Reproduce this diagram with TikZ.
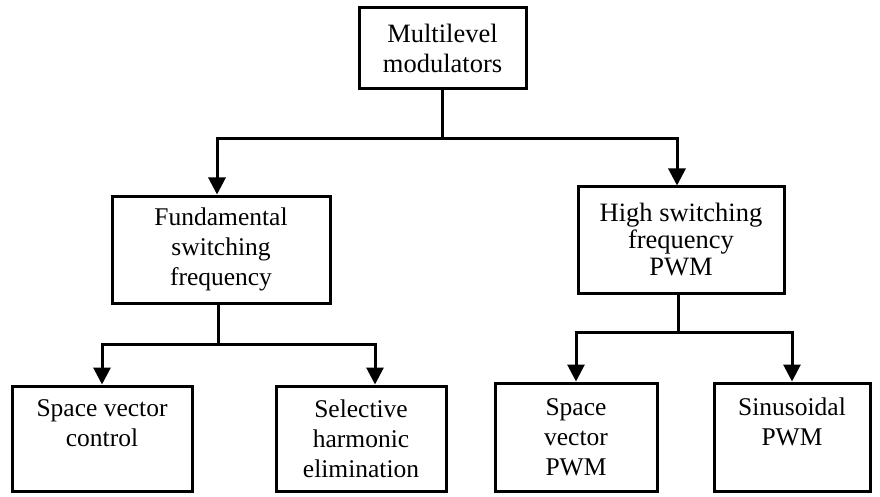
\documentclass[tikz,border=0pt]{standalone}
\usepackage{fontspec}
\setmainfont{Liberation Serif}
\usetikzlibrary{arrows.meta,positioning}
\providecommand{\modLineWidth}{3pt}
\tikzset{
  modbox/.style={draw=black, line width=\modLineWidth, align=center, inner sep=2pt,
    font=\fontsize{25.5}{30}\selectfont},
  modarrow/.style={draw=black, line width=\modLineWidth, -{Triangle[width=17pt,length=17pt]}},
  modline/.style={draw=black, line width=\modLineWidth}
}
\begin{document}
\begin{tikzpicture}
% Tree of multilevel modulators, drawn in pixel units (y downwards)
\begin{scope}[x=1pt, y=-1pt, line cap=butt, line join=miter]
  \useasboundingbox (0,0) rectangle (880,497);
  % Root
  \node[modbox, minimum width=167pt, minimum height=81pt, font=\fontsize{26.5}{30}\selectfont] (root) at (442.5,48.5) {Multilevel\\modulators};
  % Second level
  \node[modbox, minimum width=218pt, minimum height=107pt] (fund) at (221,249.5) {Fundamental\\switching\\frequency};
  \node[modbox, minimum width=206pt, minimum height=106pt, font=\fontsize{26.5}{27}\selectfont] (high) at (681,240) {High switching\\frequency\\PWM};
  % Leaves
  \node[modbox, minimum width=180pt, minimum height=105pt] (svc) at (102,438.5) {Space vector\\control\\\mbox{}};
  \node[modbox, minimum width=170pt, minimum height=105pt] (she) at (361,438.5) {Selective\\harmonic\\elimination};
  \node[modbox, minimum width=162pt, minimum height=108pt] (svp) at (576,437) {Space\\vector\\PWM};
  \node[modbox, minimum width=156pt, minimum height=108pt] (sin) at (792,437) {Sinusoidal\\PWM\\\mbox{}};
  % Connectors from the root
  \draw[modline] (root.south) -- ++(0,48) coordinate (rootsplit);
  \draw[modarrow] (rootsplit) -| ([xshift=-4pt]fund.north);
  \draw[modarrow] (rootsplit) -| ([xshift=-4pt]high.north);
  % Connectors below fundamental switching
  \draw[modline] ([xshift=-3pt]fund.south) -- ++(0,40) coordinate (fundsplit);
  \draw[modarrow] (fundsplit) -| (svc.north);
  \draw[modarrow] (fundsplit) -| ([xshift=14pt]she.north);
  % Connectors below high switching
  \draw[modline] ([xshift=-3pt]high.south) -- ++(0,38) coordinate (highsplit);
  \draw[modarrow] (highsplit) -| (svp.north);
  \draw[modarrow] (highsplit) -| (sin.north);
\end{scope}
\end{tikzpicture}
\end{document}
